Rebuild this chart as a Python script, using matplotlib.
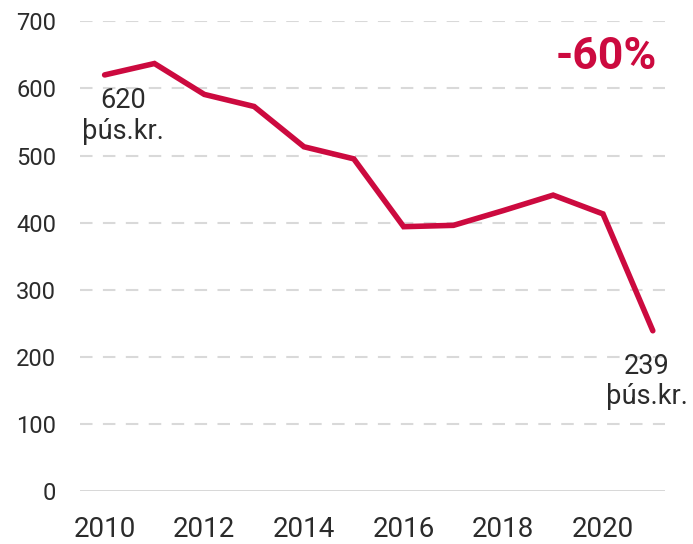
import matplotlib
matplotlib.use("Agg")
import matplotlib.pyplot as plt

years = [2010, 2011, 2012, 2013, 2014, 2015, 2016, 2017, 2018, 2019, 2020, 2021]
values = [620, 637, 591, 573, 513, 495, 394, 396, 418, 441, 413, 239]
yticks = [0, 100, 200, 300, 400, 500, 600, 700]
xticks = [2010, 2012, 2014, 2016, 2018, 2020]
red = '#cc0a3f'
txt = '#2b2b2b'

plt.rcParams['font.family'] = ['Roboto', 'DejaVu Sans']

fig = plt.figure(figsize=(6.93, 5.44), dpi=100)
ax = fig.add_axes([0.115, 0.097, 0.845, 0.864])

for y in yticks[1:]:
    ax.axhline(y, color='#d9d9d9', lw=1.5, dashes=(6, 5), zorder=1)
ax.axhline(0, color='#d4d4d4', lw=2, zorder=1)

ax.plot(years, values, color=red, lw=4, solid_capstyle='round', solid_joinstyle='miter', zorder=3)

ax.set_xlim(2009.5, 2021.25)
ax.set_ylim(0, 700)
ax.set_xticks(xticks)
ax.set_yticks(yticks)
ax.tick_params(axis='x', length=0, labelsize=20, colors=txt, pad=18)
ax.tick_params(axis='y', length=0, labelsize=17, colors=txt, pad=17)
for s in ax.spines.values():
    s.set_visible(False)

# end-point labels
ax.annotate(f'{values[0]}\nþús.kr.', (years[0], values[0]), xytext=(13.5, -9),
            textcoords='offset points', ha='center', va='top', fontsize=19.5,
            color=txt, linespacing=1.15, multialignment='center')
ax.annotate(f'{values[-1]}\nþús.kr.', (years[-1], values[-1]), xytext=(-4.5, -16),
            textcoords='offset points', ha='center', va='top', fontsize=19.5,
            color=txt, linespacing=1.15, multialignment='center')
ax.text(0.986, 0.923, '-60%', transform=ax.transAxes, ha='right', va='center',
        fontsize=32, fontweight='bold', color=red)

plt.savefig('out.png', dpi=100)
plt.close()
